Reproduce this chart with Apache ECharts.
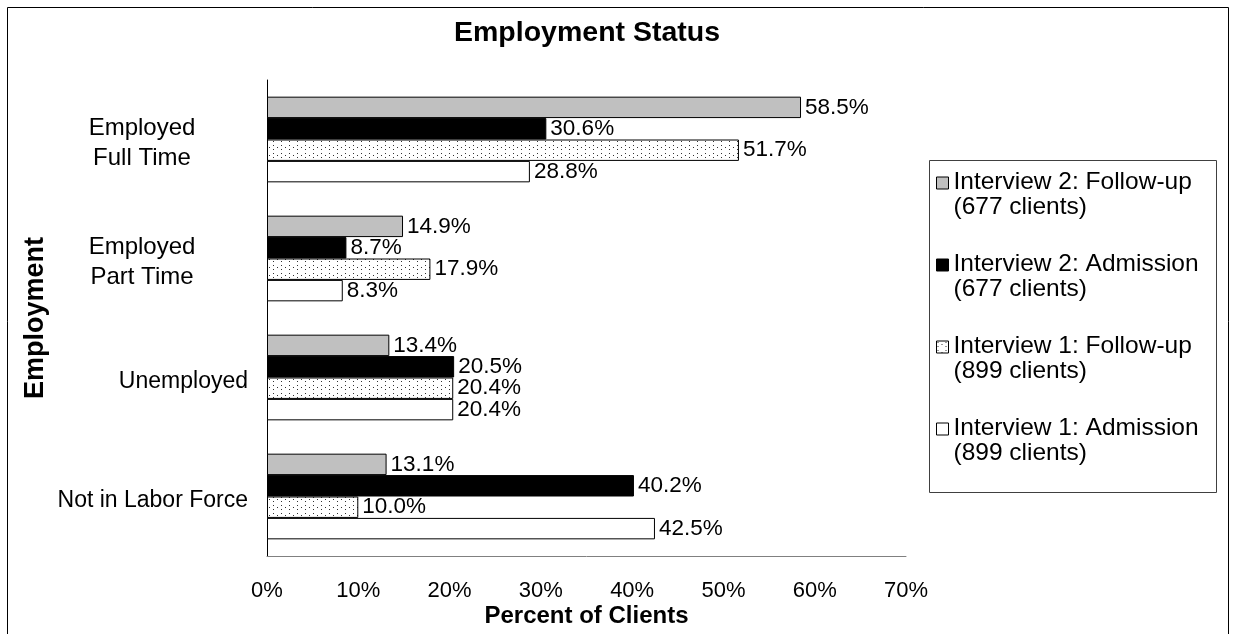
<!DOCTYPE html>
<html>
<head>
<meta charset="utf-8">
<title>Employment Status</title>
<script src="https://cdn.jsdelivr.net/npm/echarts@6/dist/echarts.min.js"></script>
<style>
  html, body { margin: 0; padding: 0; background: #fff; }
  #chart { width: 1235px; height: 634px; }
</style>
</head>
<body>
<div id="chart"></div>
<script>
// Employment status categories (top to bottom)
const categories = ['Employed\nFull Time', 'Employed\nPart Time', 'Unemployed', 'Not in Labor Force'];

// Series names and client counts shown in the legend
const seriesNames = ['Interview 2: Follow-up', 'Interview 2: Admission', 'Interview 1: Follow-up', 'Interview 1: Admission'];
const clientCounts = ['(677 clients)', '(677 clients)', '(899 clients)', '(899 clients)'];

// Percent of clients per category
const interview2FollowUp  = [58.5, 14.9, 13.4, 13.1];
const interview2Admission = [30.6, 8.7, 20.5, 40.2];
const interview1FollowUp  = [51.7, 17.9, 20.4, 10.0];
const interview1Admission = [28.8, 8.3, 20.4, 42.5];

// Percent axis
const axisMin = 0;
const axisMax = 70;
const axisStep = 10;

const FONT = '"Liberation Sans", Arial, Helvetica, sans-serif';

// Small dotted fill used for the Interview 1 follow-up bars
function dotPattern() {
  const c = document.createElement('canvas');
  c.width = 8; c.height = 8;
  const g = c.getContext('2d');
  g.fillStyle = '#fff';
  g.fillRect(0, 0, 8, 8);
  g.fillStyle = '#333';
  [[1, 1], [1, 5], [5, 3]].forEach(([x, y]) => g.fillRect(x, y, 1, 1));
  return { image: c, repeat: 'repeat' };
}

const styles = [
  { color: '#c0c0c0', borderColor: '#000', borderWidth: 1 },
  { color: '#000000', borderColor: '#000', borderWidth: 1 },
  { color: dotPattern(), borderColor: '#000', borderWidth: 1 },
  { color: '#ffffff', borderColor: '#000', borderWidth: 1 }
];
const values = [interview2FollowUp, interview2Admission, interview1FollowUp, interview1Admission];

const series = seriesNames.map((name, i) => ({
  name: name,
  type: 'bar',
  data: values[i],
  barGap: '0%',
  barCategoryGap: '28%',
  itemStyle: styles[i],
  emphasis: { disabled: true },
  label: {
    show: true,
    position: 'right',
    distance: 4,
    formatter: p => p.value.toFixed(1) + '%',
    fontFamily: FONT,
    fontSize: 22.5,
    color: '#000'
  }
}));

// Legend swatch: a 12px square sitting level with the first text line
const legendIcon = 'path://M0,0L12,0L12,12L0,12Z M0,36';

const chart = echarts.init(document.getElementById('chart'), null, { renderer: 'canvas' });

chart.setOption({
  animation: false,
  backgroundColor: '#fff',
  title: {
    text: 'Employment Status',
    left: 449,
    top: 14,
    textStyle: { fontFamily: FONT, fontSize: 28.5, fontWeight: 'bold', color: '#000' }
  },
  grid: {
    left: 267, top: 80, width: 639, height: 476,
    containLabel: false,
    outerBoundsMode: 'none'
  },
  xAxis: {
    type: 'value',
    min: axisMin,
    max: axisMax,
    interval: axisStep,
    axisLine: { show: true, lineStyle: { color: '#808080', width: 1 } },
    axisTick: { show: false },
    splitLine: { show: false },
    axisLabel: {
      formatter: '{value}%',
      margin: 24,
      fontFamily: FONT,
      fontSize: 22,
      color: '#000'
    },
    name: 'Percent of Clients',
    nameLocation: 'middle',
    nameGap: 48,
    nameMoveOverlap: false,
    nameTextStyle: { fontFamily: FONT, fontSize: 24, fontWeight: 'bold', color: '#000' }
  },
  yAxis: {
    type: 'category',
    data: categories,
    inverse: true,
    axisLine: { show: true, lineStyle: { color: '#000', width: 1 } },
    axisTick: { show: false },
    axisLabel: {
      margin: 19,
      padding: [8, 0, 0, 0],
      fontFamily: FONT,
      fontSize: 23,
      color: '#000',
      lineHeight: 30,
      formatter: v => v.indexOf('\n') >= 0
        ? v.split('\n').map(s => '{w|' + s + '}').join('\n')
        : v,
      rich: {
        w: { width: 212, align: 'center', fontFamily: FONT, fontSize: 24, lineHeight: 30, color: '#000' }
      }
    },
    name: 'Employment',
    nameLocation: 'middle',
    nameGap: 218,
    nameRotate: 90,
    nameMoveOverlap: false,
    nameTextStyle: { fontFamily: FONT, fontSize: 27, fontWeight: 'bold', color: '#000' }
  },
  legend: {
    orient: 'vertical',
    left: 936,
    top: 170,
    padding: 0,
    icon: legendIcon,
    itemWidth: 12,
    itemHeight: 36,
    itemGap: 32,
    selectedMode: false,
    itemStyle: { borderWidth: 1, borderColor: '#000' },
    data: seriesNames,
    formatter: name => name + '\n' + clientCounts[seriesNames.indexOf(name)],
    textStyle: {
      fontFamily: FONT,
      fontSize: 24.5,
      lineHeight: 25,
      color: '#000'
    }
  },
  graphic: [
    {
      type: 'rect',
      silent: true,
      shape: { x: 7.5, y: 7.5, width: 1221, height: 640 },
      style: { fill: null, stroke: '#000', lineWidth: 1 }
    },
    {
      type: 'rect',
      silent: true,
      shape: { x: 929.5, y: 160.5, width: 287, height: 332 },
      style: { fill: null, stroke: '#404040', lineWidth: 1 }
    }
  ],
  series: series
});
</script>
</body>
</html>
